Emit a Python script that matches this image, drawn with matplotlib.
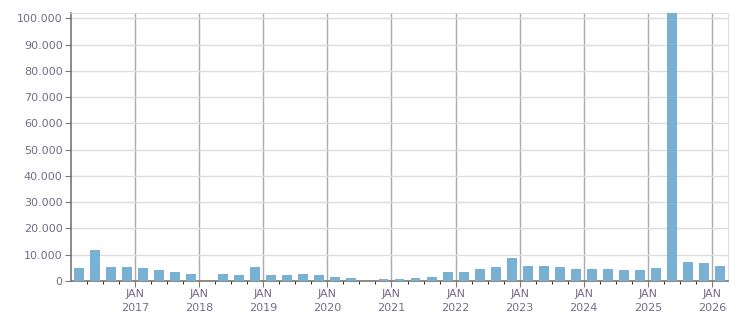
import numpy as np
import matplotlib.pyplot as plt
from matplotlib.ticker import FuncFormatter

# quarterly values, Q1 2016 .. Q1 2026
quarters = ["2016Q1", "2016Q2", "2016Q3", "2016Q4",
            "2017Q1", "2017Q2", "2017Q3", "2017Q4",
            "2018Q1", "2018Q2", "2018Q3", "2018Q4",
            "2019Q1", "2019Q2", "2019Q3", "2019Q4",
            "2020Q1", "2020Q2", "2020Q3", "2020Q4",
            "2021Q1", "2021Q2", "2021Q3", "2021Q4",
            "2022Q1", "2022Q2", "2022Q3", "2022Q4",
            "2023Q1", "2023Q2", "2023Q3", "2023Q4",
            "2024Q1", "2024Q2", "2024Q3", "2024Q4",
            "2025Q1", "2025Q2", "2025Q3", "2025Q4",
            "2026Q1"]
values = [5070, 11900, 5450, 5450,
          5070, 4300, 3550, 2800,
          0, 2800, 2400, 5450,
          2300, 2300, 2650, 2300,
          1500, 1150, 0, 750,
          700, 1150, 1500, 3400,
          3400, 4600, 5400, 8800,
          5800, 5800, 5450, 4700,
          4700, 4700, 4300, 4300,
          5050, 102500, 7350, 7000,
          5800]
years = list(range(2017, 2027))
year_labels = ["JAN\n%d" % y for y in years]

# convert "YYYYQn" to the centre of the quarter in decimal years
x = np.array([int(q[:4]) + (int(q[5]) - 1) * 0.25 + 0.125 for q in quarters])

fig = plt.figure(figsize=(7.51, 3.13), dpi=100)
ax = fig.add_axes([0.0945, 0.1022, 0.8749, 0.8563])

txt = '#756b86'
ax.bar(x, values, width=0.155, color='#78b1d4', zorder=3)

ax.set_xlim(2016, 2026.25)
ax.set_ylim(0, 102000)

ax.set_xticks(years)
ax.set_xticklabels(year_labels)
ax.set_xticks(np.arange(2016.25, 2026.25, 0.25), minor=True)
ax.set_yticks(np.arange(0, 100001, 10000))
ax.yaxis.set_major_formatter(FuncFormatter(lambda v, p: "{:,.0f}".format(v).replace(",", ".")))

ax.grid(axis='y', color='#dddddd', lw=1, zorder=0)
ax.grid(axis='x', which='major', color='#aaaaaa', lw=1, zorder=0)

for s in ['top', 'right']:
    ax.spines[s].set_color('#dddddd')
for s in ['left', 'bottom']:
    ax.spines[s].set_color('#777777')
    ax.spines[s].set_linewidth(1.2)

ax.tick_params(axis='both', labelsize=8, labelcolor=txt, colors='#777777')
ax.tick_params(axis='x', which='major', length=4, pad=2)
ax.tick_params(axis='x', which='minor', length=2)
ax.tick_params(axis='y', length=4, pad=2)
for lab in ax.get_xticklabels():
    lab.set_linespacing(1.5)

fig.savefig('out.png', dpi=100)
